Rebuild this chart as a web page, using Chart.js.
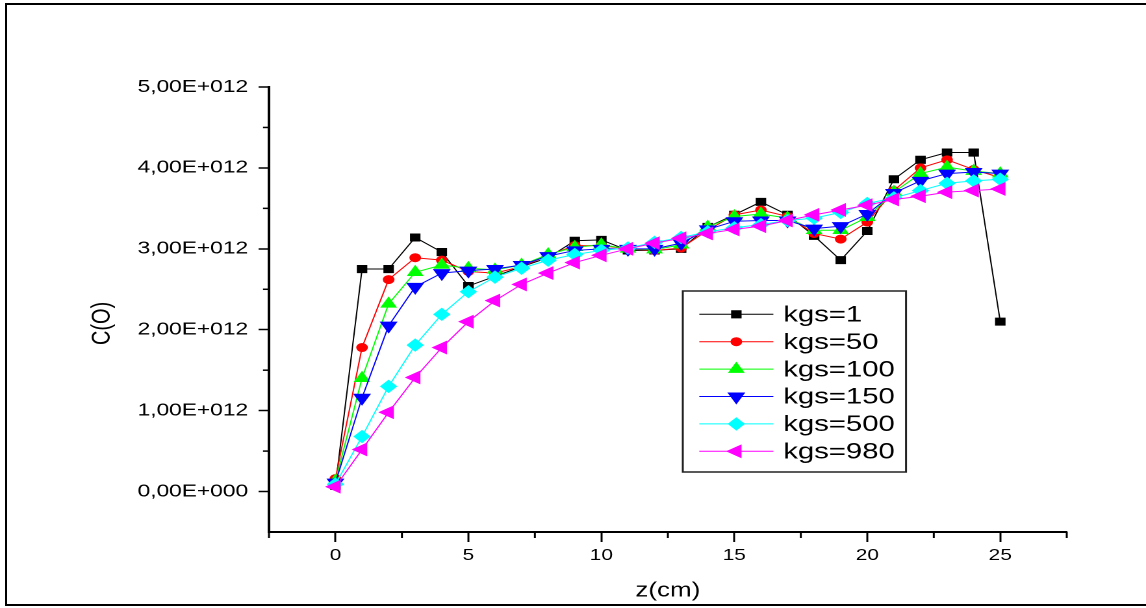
<!DOCTYPE html>
<html><head><meta charset="utf-8">
<script src="https://cdn.jsdelivr.net/npm/chart.js@4/dist/chart.umd.min.js"></script>
<style>
html,body{margin:0;padding:0;background:#fff;width:1146px;height:608px;overflow:hidden;position:relative;}
#frame{position:absolute;left:5px;top:3px;width:1160px;height:603px;border:2px solid #000;box-sizing:border-box;}
#wrap{position:absolute;left:0;top:0;width:882px;height:608px;transform:scaleX(1.29932);transform-origin:0 0;}
canvas{display:block;}
</style></head><body>
<div id="frame"></div>
<div id="wrap"><canvas id="c" width="882" height="608"></canvas></div>
<script>
// ---- data (C(O) values in units of 1E+012) ----
const UNIT = 1e12;
const Z_CM = [0,1,2,3,4,5,6,7,8,9,10,11,12,13,14,15,16,17,18,19,20,21,22,23,24,25];
const KGS_1   = [0.07,2.75,2.75,3.14,2.96,2.54,2.66,2.78,2.89,3.10,3.11,2.98,2.98,3.00,3.27,3.42,3.58,3.42,3.16,2.86,3.22,3.86,4.10,4.19,4.19,2.10];
const KGS_50  = [0.16,1.78,2.62,2.89,2.86,2.72,2.70,2.78,2.92,3.04,3.04,3.00,2.98,3.01,3.23,3.42,3.48,3.40,3.19,3.12,3.33,3.72,4.00,4.10,3.98,3.88];
const KGS_100 = [0.13,1.40,2.32,2.71,2.80,2.76,2.74,2.80,2.93,3.02,3.05,3.00,2.99,3.05,3.27,3.40,3.43,3.38,3.23,3.23,3.39,3.70,3.93,4.01,3.96,3.93];
const KGS_150 = [0.11,1.16,2.05,2.53,2.70,2.73,2.75,2.80,2.91,2.98,3.00,3.00,3.00,3.07,3.24,3.34,3.35,3.35,3.25,3.28,3.43,3.69,3.84,3.93,3.95,3.93];
const KGS_500 = [0.09,0.68,1.30,1.81,2.19,2.47,2.65,2.76,2.86,2.93,2.98,3.01,3.08,3.14,3.21,3.26,3.30,3.35,3.38,3.45,3.56,3.63,3.72,3.81,3.84,3.86];
const KGS_980 = [0.06,0.52,0.98,1.41,1.78,2.10,2.36,2.56,2.70,2.83,2.92,3.00,3.07,3.13,3.19,3.24,3.28,3.35,3.42,3.48,3.54,3.61,3.65,3.70,3.72,3.74];
const SERIES_LABELS = ['kgs=1','kgs=50','kgs=100','kgs=150','kgs=500','kgs=980'];
const Y_TICK_LABELS = ['0,00E+000','1,00E+012','2,00E+012','3,00E+012','4,00E+012','5,00E+012'];
const X_TICK_LABELS = ['0','5','10','15','20','25'];
const X_TITLE = 'z(cm)';
const Y_TITLE = 'C(O)';

// ---- styles ----
const SERIES_VALUES = [KGS_1, KGS_50, KGS_100, KGS_150, KGS_500, KGS_980];
const STYLES = [
  {color:'#000000', pointStyle:'rect',     radius:5,   rotation:0},
  {color:'#ff0000', pointStyle:'circle',   radius:4,   rotation:0},
  {color:'#00ff00', pointStyle:'triangle', radius:6.5, rotation:0},
  {color:'#0000ff', pointStyle:'triangle', radius:7,   rotation:180},
  {color:'#00ffff', pointStyle:'rectRot',  radius:6,   rotation:0},
  {color:'#ff00ff', pointStyle:'triangle', radius:7,   rotation:270}
];

function drawMarker(ctx, st, x, y) {
  if (window.Chart && Chart.helpers && Chart.helpers.drawPoint) {
    ctx.fillStyle = st.color; ctx.strokeStyle = st.color; ctx.lineWidth = 1;
    Chart.helpers.drawPoint(ctx, {pointStyle: st.pointStyle, radius: st.radius, rotation: st.rotation, borderWidth: 1}, x, y);
  }
}

const minorTicks = {
  id: 'minorTicks',
  afterDraw(chart) {
    const c = chart.ctx;
    c.save(); c.strokeStyle = '#000'; c.lineWidth = 1.5;
    const xs = chart.scales.x, ys = chart.scales.y;
    xs.ticks.forEach(t => { if (t.label === '') { const px = xs.getPixelForValue(t.value);
      c.beginPath(); c.moveTo(px, xs.top); c.lineTo(px, xs.top + 6); c.stroke(); } });
    ys.ticks.forEach(t => { if (t.label === '' && t.value > ys.min) { const py = ys.getPixelForValue(t.value);
      c.beginPath(); c.moveTo(ys.right - 4.6, py); c.lineTo(ys.right, py); c.stroke(); } });
    c.restore();
  }
};

const boxLegend = {
  id: 'boxLegend',
  afterDraw(chart) {
    const c = chart.ctx;
    const bx = 525.5, by = 291, bw = 171.8, bh = 181;
    c.save();
    c.fillStyle = '#fff'; c.fillRect(bx, by, bw, bh);
    c.strokeStyle = '#222'; c.lineWidth = 1.5; c.strokeRect(bx, by, bw, bh);
    c.font = '22.5px "Liberation Sans", Arial, sans-serif';
    c.textBaseline = 'middle'; c.textAlign = 'left';
    chart.data.datasets.forEach((ds, i) => {
      const st = STYLES[i];
      const y = 314.3 + i * 27.4;
      c.strokeStyle = st.color; c.lineWidth = 1;
      c.beginPath(); c.moveTo(538.2, y); c.lineTo(595.2, y); c.stroke();
      drawMarker(c, st, 566.7, y);
      c.fillStyle = '#000';
      c.fillText(ds.label, 602.9, y + 1);
    });
    c.restore();
  }
};

const datasets = SERIES_VALUES.map((vals, i) => ({
  label: SERIES_LABELS[i],
  data: Z_CM.map((z, j) => ({x: z, y: vals[j] * UNIT})),
  borderColor: STYLES[i].color,
  backgroundColor: STYLES[i].color,
  pointBackgroundColor: STYLES[i].color,
  pointBorderColor: STYLES[i].color,
  pointBorderWidth: 1,
  borderWidth: 1,
  pointStyle: STYLES[i].pointStyle,
  pointRadius: STYLES[i].radius,
  pointRotation: STYLES[i].rotation,
  tension: 0,
  order: SERIES_VALUES.length - i
}));

const tickColorFn = (ctx) => (ctx.tick && ctx.tick.label === '') ? 'rgba(0,0,0,0)' : '#000';

new Chart(document.getElementById('c'), {
  type: 'line',
  data: { datasets },
  options: {
    responsive: false,
    animation: false,
    devicePixelRatio: 2,
    layout: { padding: { left: 0, top: 87, right: 61, bottom: 0 } },
    plugins: { legend: { display: false }, tooltip: { enabled: false } },
    scales: {
      x: {
        type: 'linear', min: -2.5, max: 27.5,
        afterFit: s => { s.height = 76; },
        border: { display: true, color: '#000', width: 2 },
        grid: { drawOnChartArea: false, drawTicks: true, tickLength: 10, tickWidth: 1.5, tickColor: tickColorFn },
        ticks: {
          stepSize: 2.5, autoSkip: false, maxRotation: 0, padding: 4, color: '#000',
          font: { family: 'Liberation Sans', size: 16 },
          callback: v => { const k = Math.round(v / 5); return (Math.abs(v - k * 5) < 1e-6 && k >= 0 && k < X_TICK_LABELS.length) ? X_TICK_LABELS[k] : ''; }
        },
        title: { display: true, text: X_TITLE, color: '#000', font: { family: 'Liberation Sans', size: 20 }, padding: { top: 0, bottom: 5 } }
      },
      y: {
        type: 'linear', min: -0.5 * UNIT, max: 5 * UNIT,
        afterFit: s => { s.width = 207; },
        border: { display: true, color: '#000', width: 2 },
        grid: { drawOnChartArea: false, drawTicks: true, tickLength: 8, tickWidth: 1.5, tickColor: tickColorFn },
        ticks: {
          stepSize: 0.5 * UNIT, autoSkip: false, padding: 8, color: '#000',
          font: { family: 'Liberation Sans', size: 17.5 },
          callback: v => { const n = Math.round(v / UNIT * 2); return (n >= 0 && n % 2 === 0 && n / 2 < Y_TICK_LABELS.length) ? Y_TICK_LABELS[n / 2] : ''; }
        },
        title: { display: true, text: Y_TITLE + '     ', color: '#000', font: { family: 'Liberation Sans', size: 20 }, padding: { top: 67, bottom: 0 } }
      }
    }
  },
  plugins: [minorTicks, boxLegend]
});
</script>
</body></html>
